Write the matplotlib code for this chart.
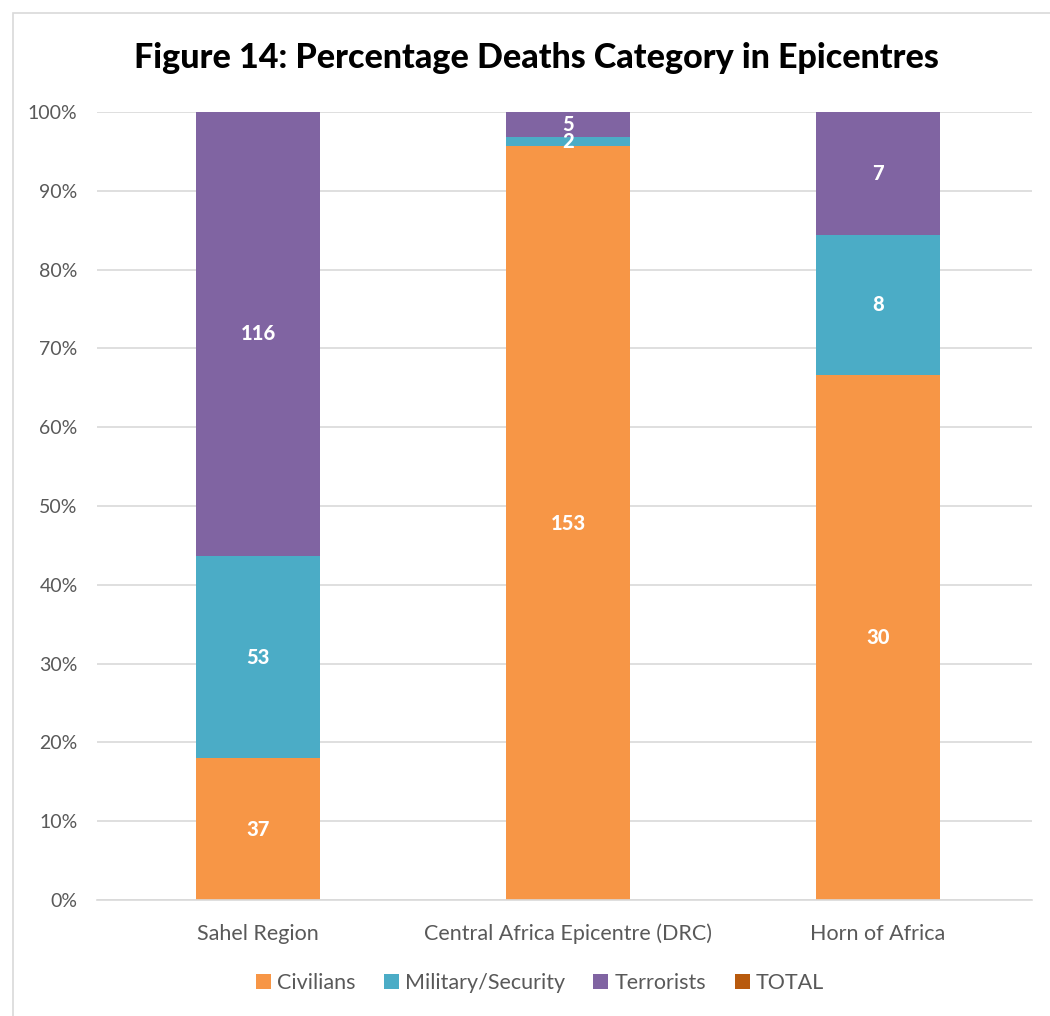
"""
Figure 14: percentage deaths category in epicentres (100% stacked bar)
"""

import matplotlib
matplotlib.use("Agg")
import numpy as np
from matplotlib import pyplot as plt
from matplotlib.patches import Patch, Rectangle
from matplotlib.ticker import PercentFormatter

plt.rcParams["font.family"] = ["Lato", "DejaVu Sans"]

regions = ["Sahel Region", "Central Africa Epicentre (DRC)", "Horn of Africa"]
civilians = [37, 153, 30]
military = [53, 2, 8]
terrorists = [116, 5, 7]
series_names = ["Civilians", "Military/Security", "Terrorists", "TOTAL"]
colors = ["#F79646", "#4BACC6", "#8064A2", "#B85A0D"]


def main():
    data = np.array([civilians, military, terrorists], dtype=float)
    totals = data.sum(axis=0)
    pct = data / totals * 100

    fig = plt.figure(figsize=(10.5, 10.16), dpi=100)
    fig.patches.append(Rectangle((13 / 1050, -0.01), 1.1, 1 - 13 / 1016 + 0.01,
                                 transform=fig.transFigure, fill=False,
                                 edgecolor="#D9D9D9", linewidth=1.2))
    ax = fig.add_axes([97 / 1050, 1 - 900 / 1016, 935 / 1050, 788 / 1016])

    x = np.arange(len(regions))
    bottom = np.zeros(len(regions))
    for i in range(3):
        ax.bar(x, pct[i], 0.4, bottom=bottom, color=colors[i], zorder=3)
        for xi, b, h, v in zip(x, bottom, pct[i], data[i]):
            ax.text(xi, b + h / 2, f"{int(v)}", ha="center", va="center",
                    color="white", fontsize=14.5, fontweight="black", zorder=4)
        bottom += pct[i]

    ax.set_xlim(-0.52, 2.497)
    ax.set_ylim(0, 100)
    ax.set_yticks(np.arange(0, 101, 10))
    ax.yaxis.set_major_formatter(PercentFormatter(decimals=0))
    ax.grid(axis="y", color="#D9D9D9", linewidth=1.2, zorder=0)
    for s in ["top", "right", "left"]:
        ax.spines[s].set_visible(False)
    ax.spines["bottom"].set_color("#D9D9D9")
    ax.spines["bottom"].set_linewidth(1.2)
    ax.spines["bottom"].set_zorder(5)
    ax.tick_params(length=0, labelcolor="#595959")
    ax.tick_params(axis="x", pad=17, labelsize=15.5)
    ax.tick_params(axis="y", pad=14, labelsize=14)
    ax.set_xticks(x)
    ax.set_xticklabels(regions)

    fig.text(536 / 1050, 1 - 58 / 1016, "Figure 14: Percentage Deaths Category in Epicentres",
             ha="center", va="center", fontsize=24.5, fontweight="black")

    handles = [Patch(facecolor=c, edgecolor="none") for c in colors]
    fig.legend(handles, series_names, loc="center", bbox_to_anchor=(540 / 1050, 1 - 983 / 1016),
               ncol=4, frameon=False, fontsize=15.5, labelcolor="#595959",
               handlelength=0.7, handleheight=0.7, handletextpad=0.3, columnspacing=1.3)

    fig.savefig("out.png", dpi=100)


if __name__ == '__main__':
    main()
